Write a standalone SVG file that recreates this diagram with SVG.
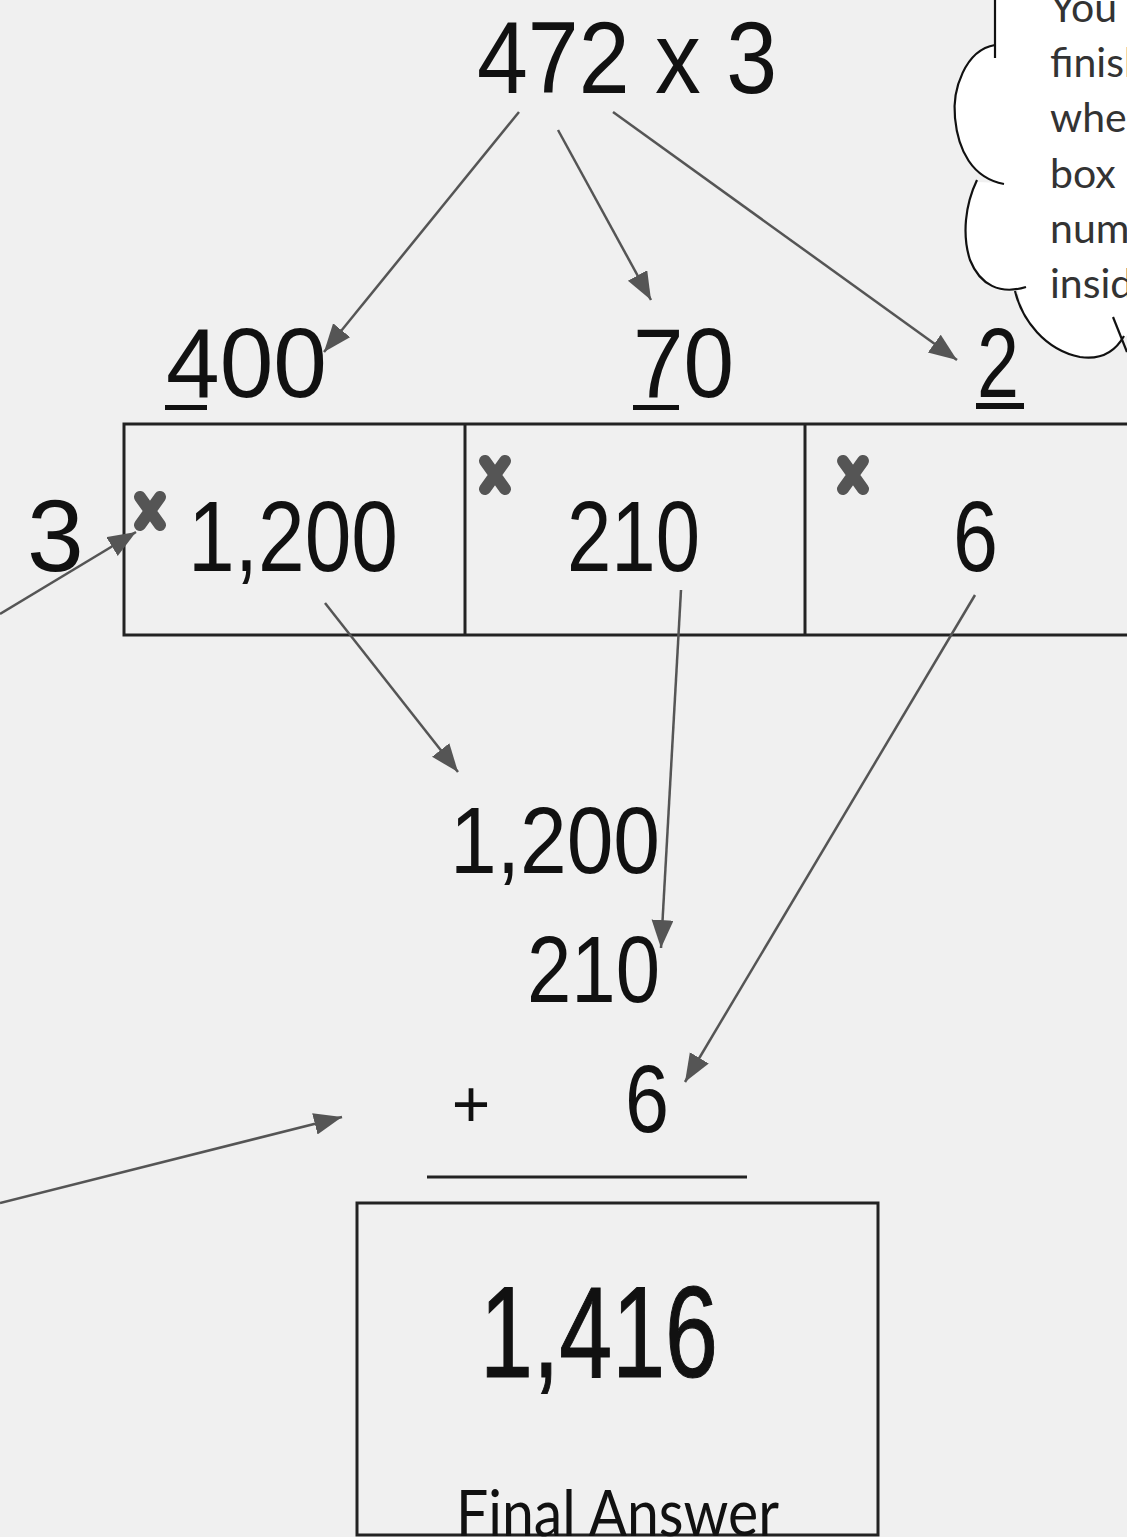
<svg xmlns="http://www.w3.org/2000/svg" width="1127" height="1537" viewBox="0 0 1127 1537">
<defs>
<style>
.num{font-family:"Liberation Sans",Arial,sans-serif;fill:#111;}
.note{font-family:Lato,"Liberation Sans",sans-serif;fill:#333;font-size:41px;}
.box{fill:none;stroke:#222;stroke-width:3;}
.conn{stroke:#555;stroke-width:2.5;fill:none;marker-end:url(#ah);}
.xm{stroke:#555;stroke-width:12;stroke-linecap:round;fill:none;}
</style>
<marker id="ah" markerUnits="userSpaceOnUse" markerWidth="30" markerHeight="24" refX="28" refY="11" orient="auto">
<path d="M0,0 L28,11 L0,22 Z" fill="#555"/>
</marker>
<path id="xmark" d="M-10,-14 L10,14 M10,-14 L-10,14"/>
</defs>
<rect x="0" y="0" width="1127" height="1537" fill="#f0f0f0"/>

<g id="cloud">
<path d="M995,-5 L995,45 C965,50 952,90 955,118 C958,150 972,178 1000,183 L977,182 C965,205 962,235 970,260 C980,285 1000,295 1018,290 C1022,320 1045,350 1080,357 C1100,360 1115,352 1127,335 L1140,335 L1140,-5 Z" fill="#fff"/>
<g fill="none" stroke="#111" stroke-width="2.2">
<path d="M995,-5 L995,58"/>
<path d="M995,45 C965,50 952,90 955,118 C958,150 972,178 1004,184"/>
<path d="M977,180 C965,205 962,235 970,260 C980,285 1000,295 1026,287"/>
<path d="M1015,291 C1022,320 1045,350 1080,357 C1100,360 1115,352 1124,336"/>
<path d="M1113,317 L1127,352"/>
</g>
<text class="note" x="1050" y="22">You a</text>
<text class="note" x="1050" y="77">finish</text>
<text class="note" x="1050" y="132">when</text>
<text class="note" x="1050" y="188">box h</text>
<text class="note" x="1050" y="243">numb</text>
<text class="note" x="1050" y="298">insid</text>
</g>

<g id="problem">
<text class="num" x="477" y="93" font-size="102" textLength="300" lengthAdjust="spacingAndGlyphs">472 x 3</text>
</g>

<g id="hundreds">
<text class="num" x="166" y="397" font-size="98" textLength="161" lengthAdjust="spacingAndGlyphs">400</text>
<rect x="165" y="405" width="42" height="5" fill="#111"/>
</g>
<g id="tens">
<text class="num" x="633" y="397" font-size="98" textLength="101" lengthAdjust="spacingAndGlyphs">70</text>
<rect x="633" y="405" width="46" height="5" fill="#111"/>
</g>
<g id="ones">
<text class="num" x="977" y="397" font-size="98" textLength="42" lengthAdjust="spacingAndGlyphs">2</text>
<rect x="976" y="403" width="48" height="6" fill="#111"/>
</g>

<g id="multiplier">
<text class="num" x="27" y="571" font-size="102">3</text>
</g>

<g id="grid">
<rect class="box" x="124" y="424" width="1010" height="211"/>
<line class="box" x1="465" y1="424" x2="465" y2="635"/>
<line class="box" x1="805" y1="424" x2="805" y2="635"/>
</g>
<g id="cell1">
<use href="#xmark" class="xm" transform="translate(150,511)"/>
<text class="num" x="188" y="571" font-size="100" textLength="210" lengthAdjust="spacingAndGlyphs">1,200</text>
</g>
<g id="cell2">
<use href="#xmark" class="xm" transform="translate(495,475)"/>
<text class="num" x="567" y="571" font-size="100" textLength="133" lengthAdjust="spacingAndGlyphs">210</text>
</g>
<g id="cell3">
<use href="#xmark" class="xm" transform="translate(853,475)"/>
<text class="num" x="953" y="571" font-size="100" textLength="45" lengthAdjust="spacingAndGlyphs">6</text>
</g>

<g id="sum">
<text class="num" x="450" y="873" font-size="95" textLength="210" lengthAdjust="spacingAndGlyphs">1,200</text>
<text class="num" x="527" y="1002" font-size="95" textLength="133" lengthAdjust="spacingAndGlyphs">210</text>
<text class="num" x="471" y="1127" font-size="66" text-anchor="middle">+</text>
<text class="num" x="625" y="1132" font-size="97" textLength="44" lengthAdjust="spacingAndGlyphs">6</text>
<line x1="427" y1="1177" x2="747" y2="1177" stroke="#222" stroke-width="3"/>
</g>

<g id="final">
<rect class="box" x="357" y="1203" width="521" height="332"/>
<text class="num" x="480" y="1377" font-size="130" stroke="#111" stroke-width="1.2" textLength="238" lengthAdjust="spacingAndGlyphs">1,416</text>
<text x="456" y="1536" font-family="Lato,'Liberation Sans',sans-serif" font-size="64" fill="#111" textLength="323" lengthAdjust="spacingAndGlyphs">Final Answer</text>
</g>

<g id="connectors">
<line class="conn" x1="519" y1="112" x2="324" y2="352"/>
<line class="conn" x1="558" y1="130" x2="651" y2="300"/>
<line class="conn" x1="613" y1="112" x2="957" y2="360"/>
<line class="conn" x1="0" y1="614" x2="136" y2="532"/>
<line class="conn" x1="325" y1="603" x2="458" y2="772"/>
<line class="conn" x1="681" y1="590" x2="661" y2="948"/>
<line class="conn" x1="975" y1="595" x2="685" y2="1082"/>
<line class="conn" x1="0" y1="1203" x2="342" y2="1117"/>
</g>
</svg>
